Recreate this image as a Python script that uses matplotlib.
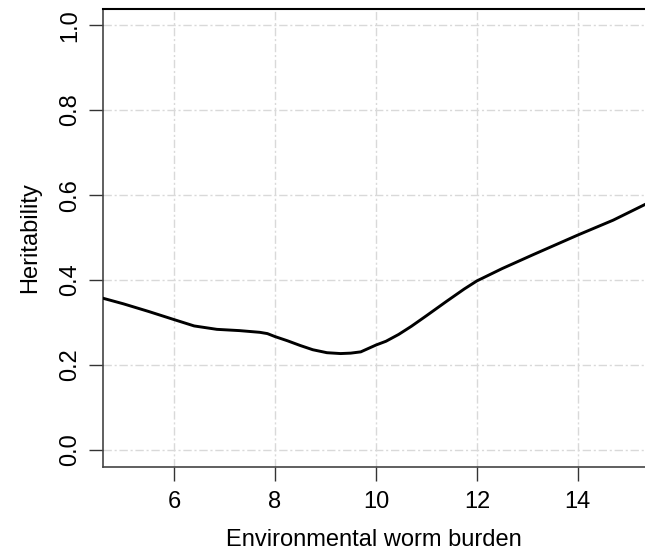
import numpy as np
import matplotlib
matplotlib.use("Agg")
import matplotlib.pyplot as plt

# curve
burden = [4.6, 5.0, 5.5, 6.0, 6.4, 6.85, 7.3, 7.7, 7.85, 8.0, 8.25, 8.5, 8.75, 9.03,
          9.3, 9.5, 9.7, 10.0, 10.2, 10.45, 10.7, 11.0, 11.4, 11.75, 12.0, 12.5,
          13.1, 14.0, 14.7, 15.4]
herit = [0.357, 0.344, 0.326, 0.307, 0.292, 0.284, 0.281, 0.277, 0.274, 0.267, 0.257,
         0.246, 0.236, 0.229, 0.227, 0.228, 0.231, 0.247, 0.256, 0.272, 0.291, 0.316,
         0.350, 0.379, 0.398, 0.427, 0.459, 0.506, 0.541, 0.582]

xticks = [6, 8, 10, 12, 14]
yticks = [0.0, 0.2, 0.4, 0.6, 0.8, 1.0]

plt.rcParams['font.family'] = ['Liberation Sans', 'DejaVu Sans']

fig = plt.figure(figsize=(6.45, 5.57), dpi=100)
ax = fig.add_axes([103 / 645, 90 / 557, 1 - 103 / 645, 458 / 557])

grid_style = dict(color='#d9d9d9', lw=1.0, dashes=(6, 2, 1.5, 2), zorder=0)
for gx in xticks:
    ax.axvline(gx, **grid_style)
for gy in yticks:
    ax.axhline(gy, **grid_style)

ax.plot(burden, herit, color='black', lw=2.1, zorder=3)

ax.set_xlim(4.594, 15.33)
ax.set_ylim(-0.04, 1.038)
ax.set_xticks(xticks)
ax.set_xticklabels([str(t) for t in xticks])
ax.set_yticks(yticks)
ax.set_yticklabels(['%.1f' % t for t in yticks], rotation=90, va='center')

ax.tick_params(axis='both', length=10, width=1, color='#333333', labelsize=17, pad=7)
ax.tick_params(axis='y', pad=6)

for side in ['left', 'bottom']:
    ax.spines[side].set_color('#444444')
    ax.spines[side].set_linewidth(1.2)
ax.spines['top'].set_color('black')
ax.spines['top'].set_linewidth(1.5)
ax.spines['right'].set_visible(False)

ax.set_xlabel('Environmental worm burden', fontsize=17, labelpad=12)
ax.set_ylabel('Heritability', fontsize=17, labelpad=13)

fig.savefig('out.png', dpi=100)
